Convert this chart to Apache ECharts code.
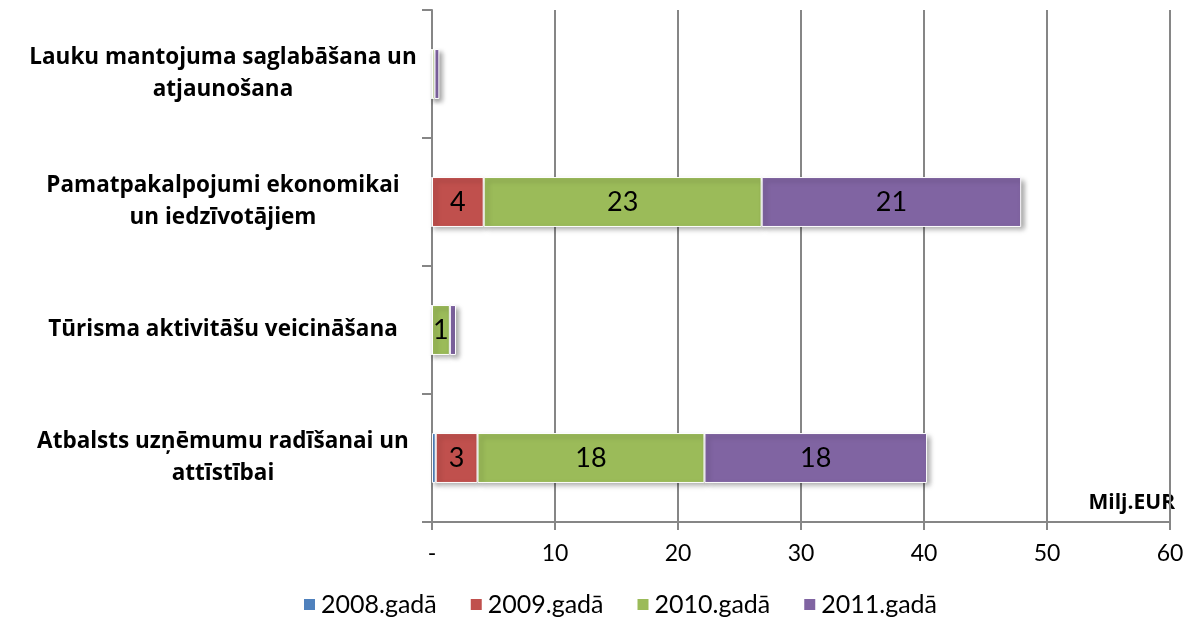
<!DOCTYPE html>
<html>
<head>
<meta charset="utf-8">
<script src="https://cdn.jsdelivr.net/npm/echarts@6/dist/echarts.min.js"></script>
<style>
    html, body { margin: 0; padding: 0; background: #fff; }
    #chart { width: 1195px; height: 624px; }
</style>
</head>
<body>
<div id="chart"></div>
<script>
var categories = [
    'Lauku mantojuma saglabāšana un\natjaunošana',
    'Pamatpakalpojumi ekonomikai\nun iedzīvotājiem',
    'Tūrisma aktivitāšu veicināšana',
    'Atbalsts uzņēmumu radīšanai un\nattīstībai'
];
var years = ['2008.gadā', '2009.gadā', '2010.gadā', '2011.gadā'];
var colors = ['#4F81BD', '#C0504D', '#9BBB59', '#8064A2'];

// Milj.EUR, same order as categories
var v2008 = [0, 0, 0, 0.3];
var v2009 = [0, 4.2, 0, 3.4];
var v2010 = [0.2, 22.6, 1.45, 18.45];
var v2011 = [0.4, 21.1, 0.5, 18.1];

var xTicks = ['-', '10', '20', '30', '40', '50', '60'];

var font = 'Lato, "Open Sans", sans-serif';
var boldFont = '"Open Sans", Lato, sans-serif';

function makeSeries(name, data, i) {
    return {
        name: name,
        type: 'bar',
        stack: 'total',
        barWidth: '39%',
        data: data,
        itemStyle: {
            color: colors[i],
            borderColor: '#fff',
            borderWidth: 1,
            shadowColor: 'rgba(0,0,0,0.35)',
            shadowBlur: 5,
            shadowOffsetX: 3,
            shadowOffsetY: 3
        },
        label: {
            show: true,
            position: 'inside',
            color: '#000',
            fontFamily: font,
            fontSize: 27,
            formatter: function (p) {
                return p.value >= 1 ? Math.round(p.value) : '';
            }
        }
    };
}

var chart = echarts.init(document.getElementById('chart'));
chart.setOption({
    animation: false,
    grid: { left: 432, right: 25, top: 10, bottom: 102 },
    legend: {
        bottom: 2,
        left: 297,
        icon: 'rect',
        itemWidth: 13,
        itemHeight: 13,
        itemGap: 32,
        textStyle: { fontFamily: font, fontSize: 25, color: '#000' },
        data: years
    },
    xAxis: {
        type: 'value',
        min: 0,
        max: 60,
        interval: 10,
        axisLine: { show: true, lineStyle: { color: '#868686', width: 2 } },
        axisTick: { show: true, length: 8, lineStyle: { color: '#868686', width: 2 } },
        splitLine: { show: true, lineStyle: { color: '#868686', width: 2 } },
        axisLabel: {
            margin: 20,
            color: '#000',
            fontFamily: font,
            fontSize: 23,
            formatter: function (v) { return xTicks[v / 10]; }
        }
    },
    yAxis: {
        type: 'category',
        inverse: true,
        data: categories,
        axisLine: { show: true, lineStyle: { color: '#868686', width: 2 } },
        axisTick: { show: true, length: 10, lineStyle: { color: '#868686', width: 2 } },
        axisLabel: {
            margin: 209,
            align: 'center',
            color: '#000',
            fontFamily: boldFont,
            fontWeight: 'bold',
            fontSize: 22.5,
            lineHeight: 32
        }
    },
    graphic: [{
        type: 'text',
        right: 20,
        top: 493,
        style: {
            text: 'Milj.EUR',
            fill: '#000',
            font: 'bold 21px ' + boldFont
        }
    }],
    series: [
        makeSeries(years[0], v2008, 0),
        makeSeries(years[1], v2009, 1),
        makeSeries(years[2], v2010, 2),
        makeSeries(years[3], v2011, 3)
    ]
});
</script>
</body>
</html>
